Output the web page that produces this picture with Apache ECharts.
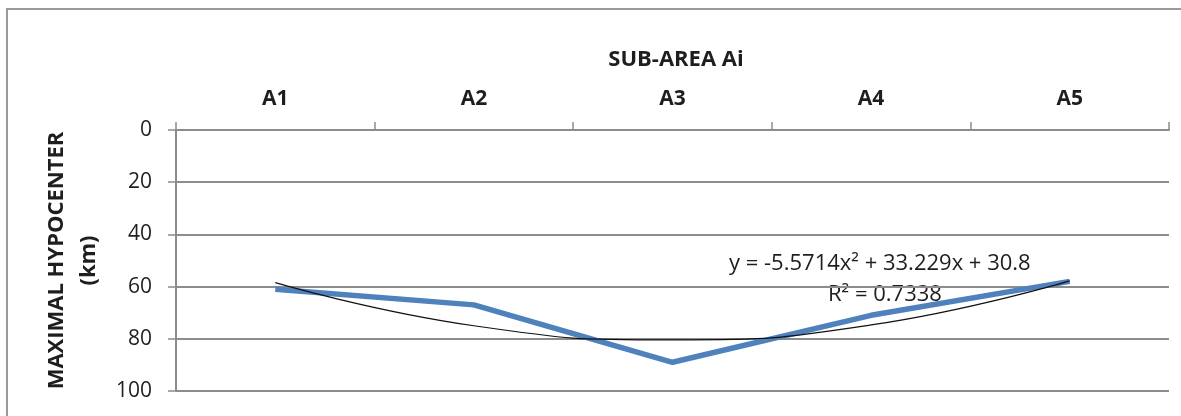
<!DOCTYPE html>
<html>
<head>
<meta charset="utf-8">
<script src="https://cdn.jsdelivr.net/npm/echarts@6/dist/echarts.min.js"></script>
<style>
  html, body { margin: 0; padding: 0; background: #fff; }
  #chart { width: 1181px; height: 416px; }
</style>
</head>
<body>
<div id="chart"></div>
<script>
// sub-areas and values
const areas = ["A1", "A2", "A3", "A4", "A5"];
const hypocenter = [61, 67, 89, 71, 58];
// polynomial trendline, read at each sub-area
const trend = [58.5, 75, 80.4, 74.7, 57.8];
const yTicks = [0, 20, 40, 60, 80, 100];

const FONT = "Open Sans";
const INK = "#1e1e1e";
const chart = echarts.init(document.getElementById("chart"), null, { renderer: "canvas" });

chart.setOption({
  animation: false,
  backgroundColor: "#fff",
  textStyle: { fontFamily: FONT },
  grid: { left: 176, right: 12, top: 130, bottom: 25 },

  title: {
    text: "SUB-AREA Ai",
    left: 671,
    top: 44,
    textAlign: "center",
    textStyle: { fontFamily: FONT, fontSize: 22, fontWeight: "bold", color: INK }
  },

  xAxis: {
    type: "category",
    position: "top",
    data: areas,
    boundaryGap: true,
    axisLine: { show: true, lineStyle: { color: "#8c8c8c", width: 2 } },
    axisTick: { show: true, length: 8, lineStyle: { color: "#8c8c8c", width: 1.5 } },
    axisLabel: { margin: 20, fontFamily: FONT, fontSize: 21, fontWeight: "bold", color: INK },
    splitLine: { show: false }
  },

  yAxis: {
    type: "value",
    inverse: true,
    min: 0,
    max: 100,
    interval: 20,
    name: "MAXIMAL HYPOCENTER\n(km)",
    nameLocation: "middle",
    nameGap: 70,
    nameTextStyle: { fontFamily: FONT, fontSize: 22, fontWeight: "bold", color: INK, lineHeight: 32 },
    axisLine: { show: true, lineStyle: { color: "#8c8c8c", width: 2 } },
    axisTick: { show: true, length: 8, lineStyle: { color: "#8c8c8c", width: 1.5 } },
    axisLabel: {
      margin: 24,
      fontFamily: FONT,
      fontSize: 21,
      color: INK,
      formatter: v => (yTicks.includes(v) ? String(v) : "")
    },
    splitLine: { show: true, lineStyle: { color: "#8c8c8c", width: 2 } }
  },

  graphic: [
    {
      type: "rect",
      shape: { x: 7, y: 9, width: 1200, height: 440 },
      style: { fill: "none", stroke: "#9a9a9a", lineWidth: 2 },
      silent: true
    },
    {
      type: "text",
      left: 729,
      top: 253,
      style: {
        text: "y = -5.5714x² + 33.229x + 30.8",
        font: "22px " + FONT,
        fill: INK
      }
    },
    {
      type: "text",
      left: 828,
      top: 284,
      style: {
        text: "R² = 0.7338",
        font: "22px " + FONT,
        fill: INK
      }
    }
  ],

  series: [
    {
      name: "Maximal hypocenter",
      type: "line",
      data: hypocenter,
      symbol: "none",
      lineStyle: { color: "#4f81bd", width: 5.5 },
      z: 3
    },
    {
      name: "Poly. trend",
      type: "line",
      data: trend,
      smooth: 0.5,
      symbol: "none",
      lineStyle: { color: "#111", width: 1.2 },
      z: 4
    }
  ]
});

window.addEventListener("resize", () => chart.resize());
</script>
</body>
</html>
